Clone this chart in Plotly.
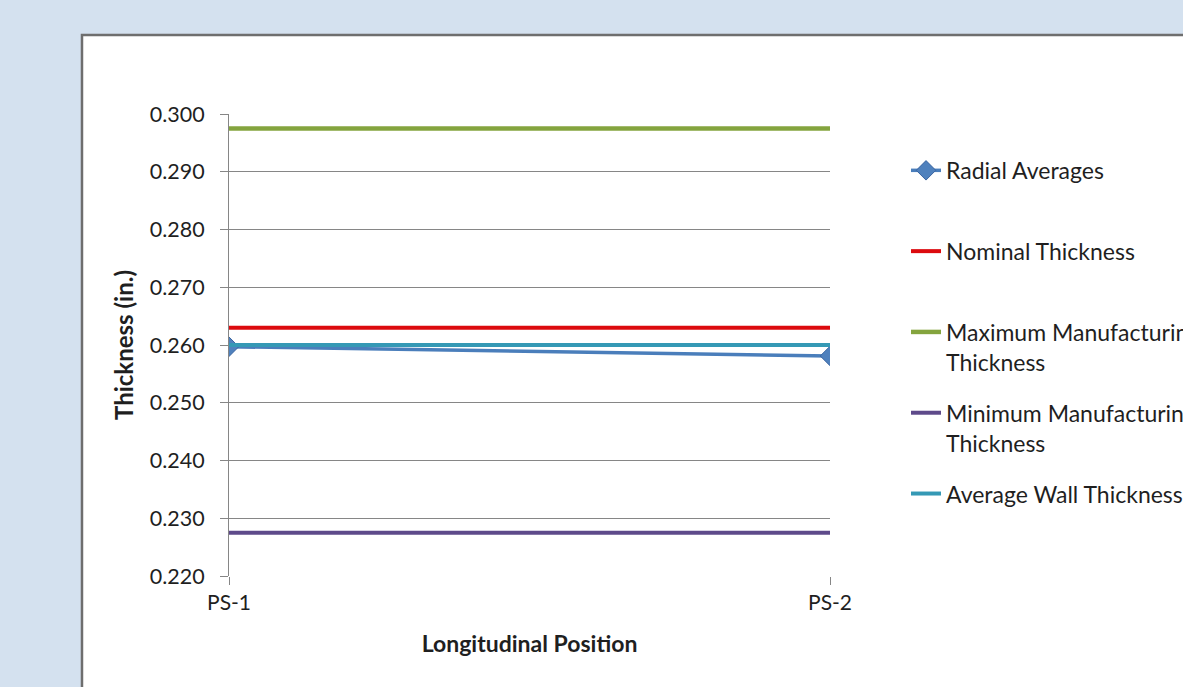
import plotly.graph_objects as go

# Measurement positions along the pipe
positions = ["PS-1", "PS-2"]
pos_index = [0, 1]

# Measured radial average thickness at each position (in.)
radial_averages = [0.2597, 0.2581]

# Reference thickness levels (in.)
nominal_thickness = [0.263, 0.263]
max_mfg_thickness = [0.2975, 0.2975]
min_mfg_thickness = [0.2275, 0.2275]
avg_wall_thickness = [0.2600, 0.2600]

y_ticks = [0.220, 0.230, 0.240, 0.250, 0.260, 0.270, 0.280, 0.290, 0.300]
y_tick_text = ["0.220", "0.230", "0.240", "0.250", "0.260", "0.270", "0.280", "0.290", "0.300"]

FONT = "Lato, 'Open Sans', sans-serif"
TEXT = "#1f1f1f"
BLANK = "<br>\u00a0"  # keeps single-line legend entries two lines tall

fig = go.Figure()

fig.add_trace(go.Scatter(
    x=pos_index, y=radial_averages, name="Radial Averages" + BLANK,
    mode="lines+markers", legendgroup="a",
    line=dict(color="#4A7EBB", width=3.5),
    marker=dict(symbol="diamond", size=15, color="#4F81BD",
                line=dict(color="#3A64A0", width=1)),
))
fig.add_trace(go.Scatter(
    x=pos_index, y=nominal_thickness, name="Nominal Thickness" + BLANK,
    mode="lines", legendgroup="b",
    line=dict(color="#DC0A0E", width=4),
))
fig.add_trace(go.Scatter(
    x=pos_index, y=max_mfg_thickness, name="Maximum Manufacturing<br>Thickness",
    mode="lines", legendgroup="c",
    line=dict(color="#84A43E", width=4.5),
))
fig.add_trace(go.Scatter(
    x=pos_index, y=min_mfg_thickness, name="Minimum Manufacturing<br>Thickness",
    mode="lines", legendgroup="d",
    line=dict(color="#5E4A8A", width=4),
))
fig.add_trace(go.Scatter(
    x=pos_index, y=avg_wall_thickness, name="Average Wall Thickness" + BLANK,
    mode="lines", legendgroup="e",
    line=dict(color="#3599B5", width=4),
))

# White chart panel with grey frame over the slide background
fig.add_shape(type="rect", xref="paper", yref="paper",
              x0=-0.2446, x1=1.62, y0=-0.30, y1=1.171,
              fillcolor="white", line=dict(color="#6E6E6E", width=2.5),
              layer="below")

fig.update_layout(
    width=1183, height=687,
    margin=dict(l=229, r=353, t=114, b=111, autoexpand=False),
    paper_bgcolor="#D4E1EF",
    plot_bgcolor="white",
    font=dict(family=FONT, size=21, color=TEXT),
    showlegend=True,
    legend=dict(
        x=1.1265, xanchor="left", y=0.9245, yanchor="top",
        bgcolor="rgba(0,0,0,0)",
        font=dict(family=FONT, size=23, color=TEXT),
        tracegroupgap=18, valign="top",
        traceorder="grouped",
    ),
    xaxis=dict(
        range=[0, 1],
        tickmode="array", tickvals=pos_index, ticktext=positions,
        ticks="outside", ticklen=8, tickcolor="#868686", tickwidth=1,
        showgrid=False, zeroline=False,
        showline=False,
        tickfont=dict(family=FONT, size=21, color=TEXT),
        title=dict(text="<b>Longitudinal Position</b>",
                   font=dict(family=FONT, size=23, color=TEXT), standoff=22),
    ),
    yaxis=dict(
        range=[0.220, 0.300],
        tickmode="array", tickvals=y_ticks, ticktext=y_tick_text,
        ticks="outside", ticklen=8, tickcolor="#868686", tickwidth=1,
        showgrid=True, gridcolor="#868686", gridwidth=1,
        zeroline=False,
        showline=True, linecolor="#868686", linewidth=1,
        tickfont=dict(family=FONT, size=21.5, color=TEXT),
        ticklabelstandoff=11,
        title=dict(text="<b>Thickness (in.)</b>",
                   font=dict(family=FONT, size=24, color=TEXT), standoff=9),
    ),
)

fig.write_html("out.html")
